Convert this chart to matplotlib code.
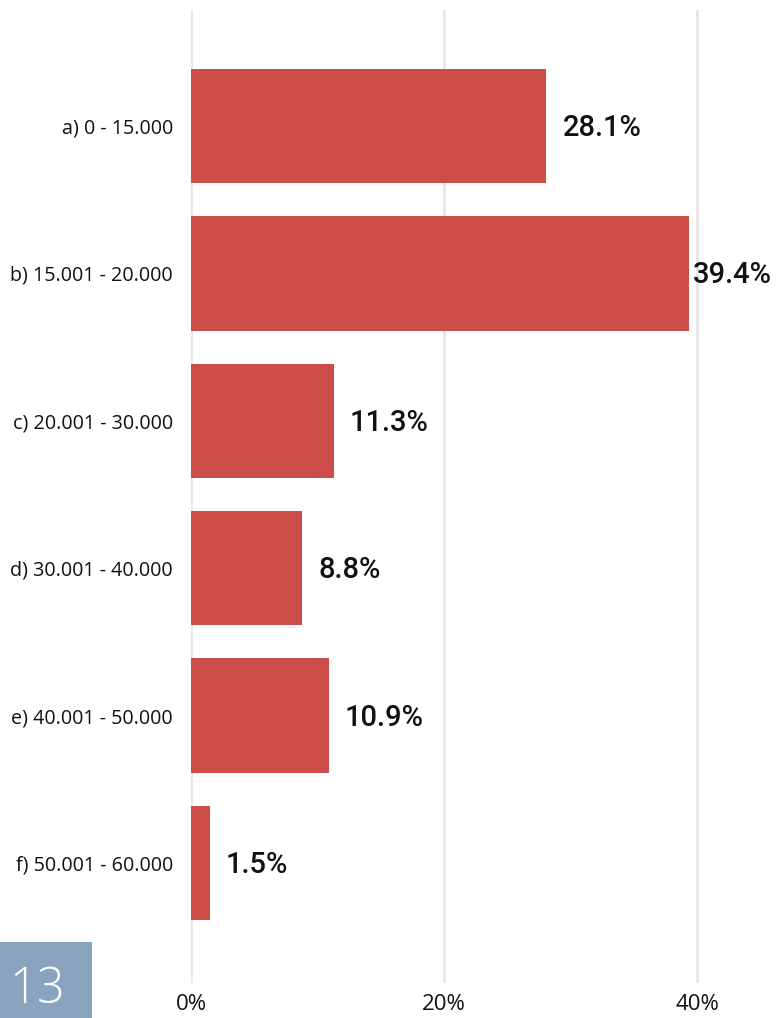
import matplotlib
matplotlib.use("Agg")
import matplotlib.pyplot as plt
from matplotlib.patches import Rectangle

categories = ["a) 0 - 15.000", "b) 15.001 - 20.000", "c) 20.001 - 30.000",
              "d) 30.001 - 40.000", "e) 40.001 - 50.000", "f) 50.001 - 60.000"]
values = [28.1, 39.4, 11.3, 8.8, 10.9, 1.5]
value_labels = ["28.1%", "39.4%", "11.3%", "8.8%", "10.9%", "1.5%"]
xticks = [0, 20, 40]
xtick_labels = ["0%", "20%", "40%"]
badge = "13"

W, H = 776, 1018
fig = plt.figure(figsize=(W / 100, H / 100), dpi=100)
ax = fig.add_axes([191 / W, (H - 983) / H, (W - 191) / W, (983 - 10) / H])

ypos = list(range(len(categories)))
ax.barh(ypos, values, height=0.775, color="#cd4e48", zorder=2)
ax.set_xlim(0, 46.25)
ax.set_ylim(5.814, -0.787)

ax.set_xticks(xticks)
ax.set_xticklabels(xtick_labels, fontfamily="Open Sans", fontsize=16, color="#111111")
ax.set_yticks(ypos)
ax.set_yticklabels(categories, fontfamily="Open Sans", fontsize=14.2, color="#111111")
ax.tick_params(axis="x", length=0, pad=8)
ax.tick_params(axis="y", length=0, pad=13)
ax.grid(axis="x", color="#e6e6e6", linewidth=2, zorder=0)
for s in ax.spines.values():
    s.set_visible(False)

for i, (v, lab) in enumerate(zip(values, value_labels)):
    off = 4 if v > 38 else 16
    ax.annotate(lab, xy=(v, i), xytext=(off * 0.72, -2 * 0.72), textcoords="offset points",
                ha="left", va="center", fontfamily="Roboto", fontsize=21,
                fontweight="medium", color="#111111")

fig.patches.append(Rectangle((0, 0), 92 / W, (H - 942) / H, transform=fig.transFigure,
                             facecolor="#8aa3be", edgecolor="none"))
fig.text(37 / W, (H - 990) / H, badge, ha="center", va="center", color="white",
         fontsize=35, fontfamily="Open Sans", fontweight="light")

fig.savefig("out.png", dpi=100, facecolor="white")
